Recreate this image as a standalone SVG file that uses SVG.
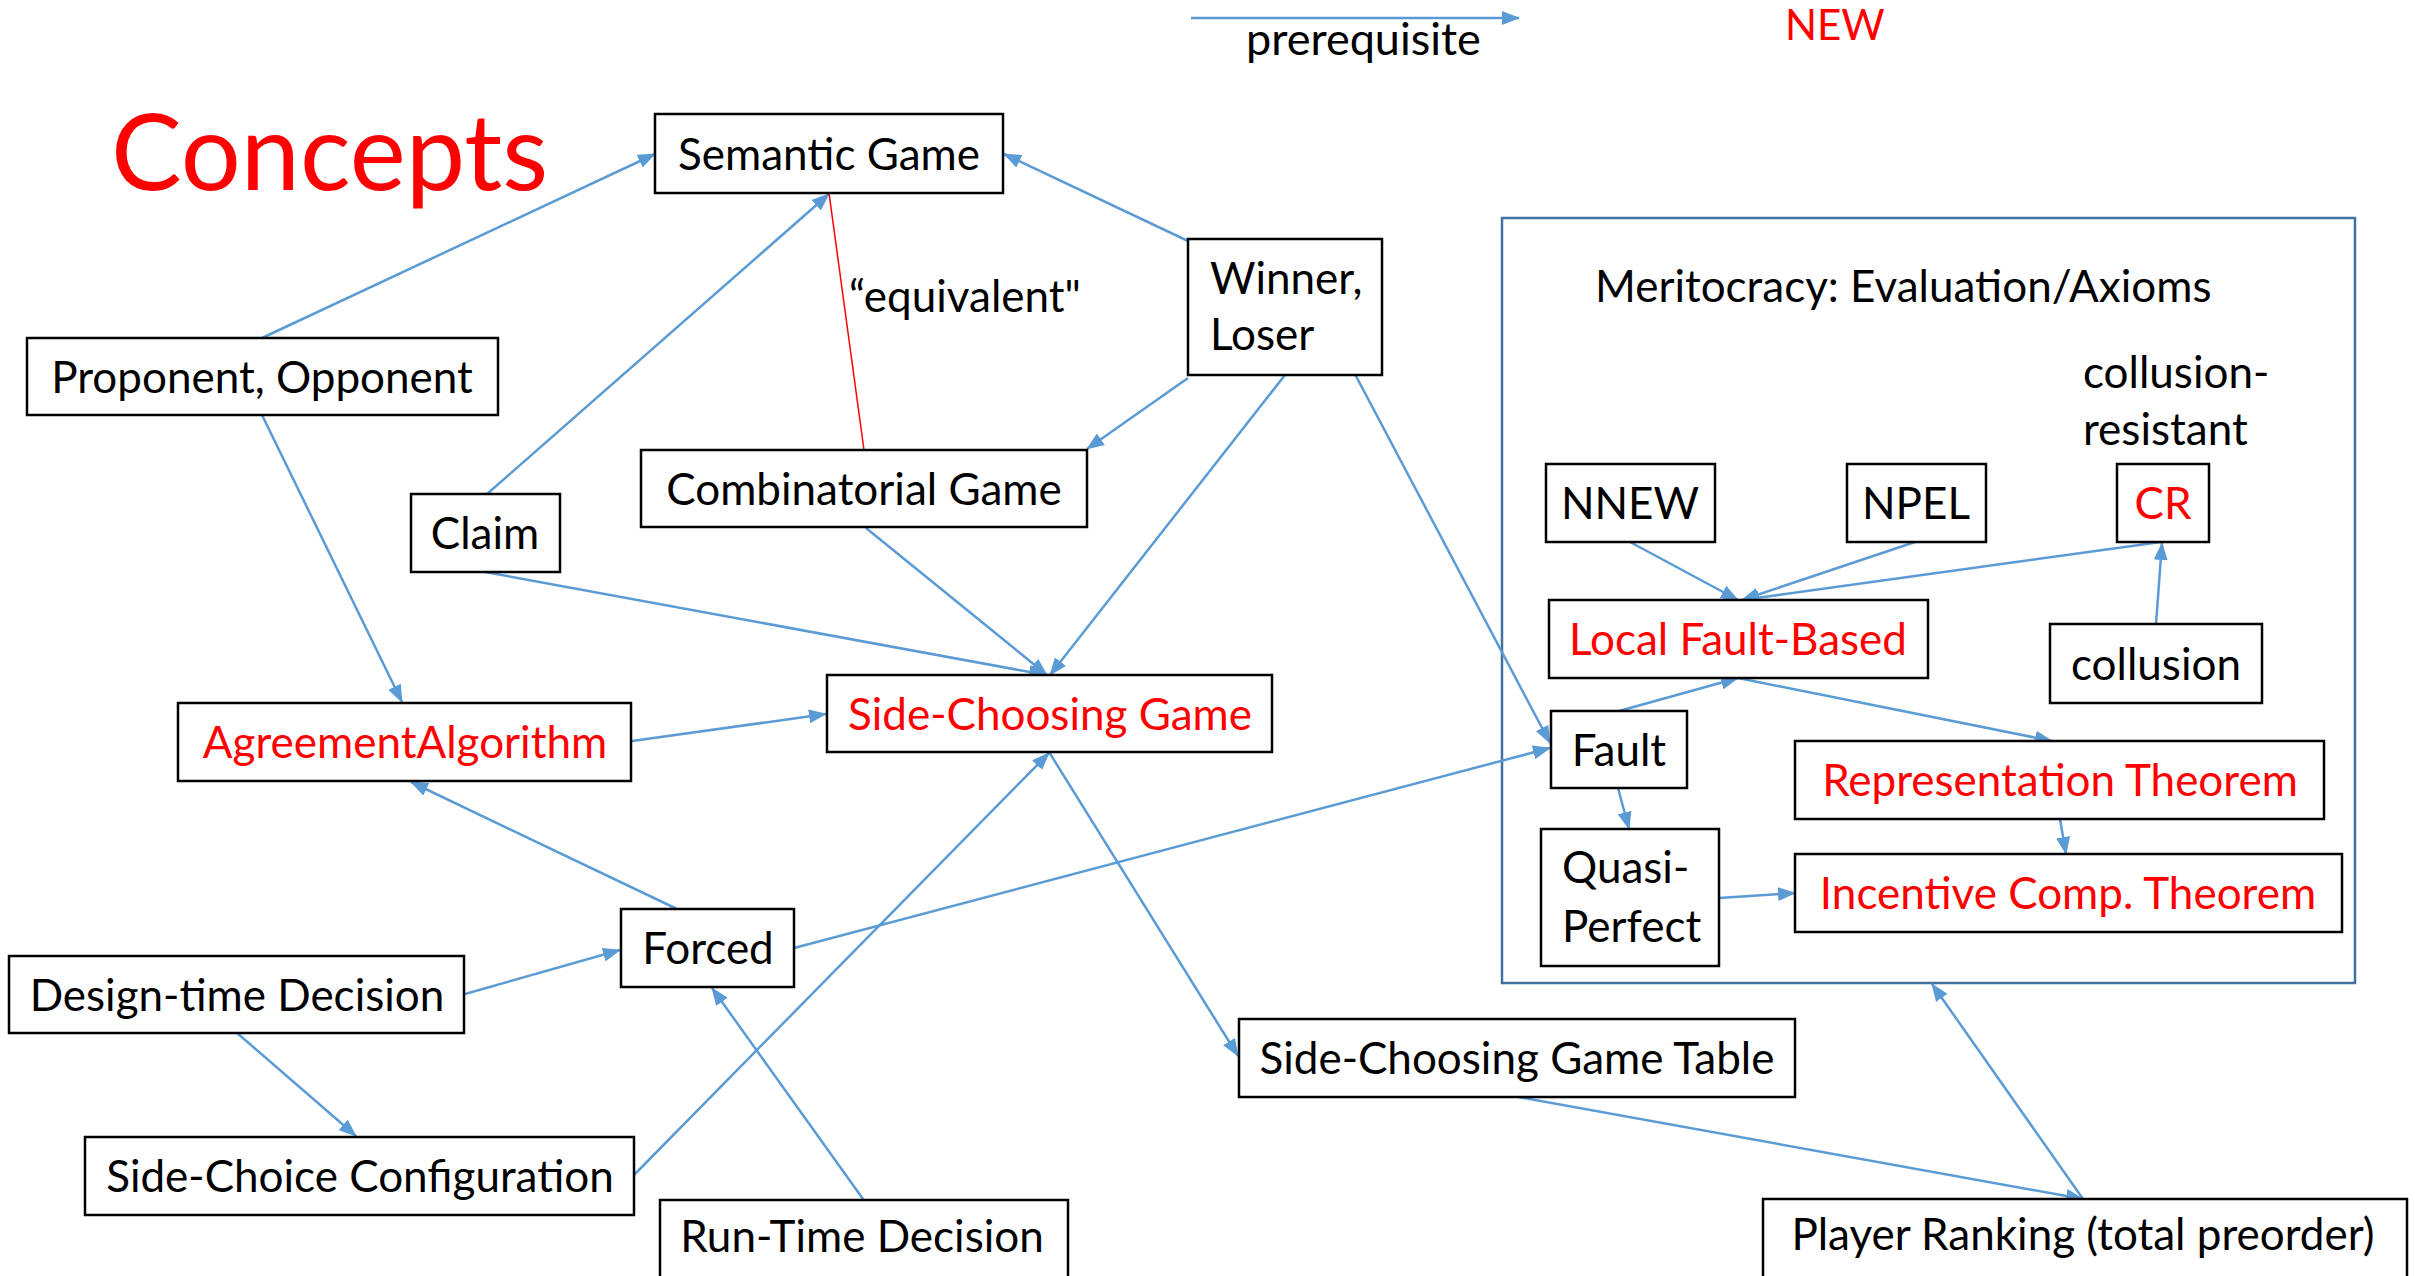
<svg xmlns="http://www.w3.org/2000/svg" width="2415" height="1276" viewBox="0 0 2415 1276">
<style>
.box{fill:#fff;stroke:#000;stroke-width:2.5}
.t{font-family:Lato,"Liberation Sans",sans-serif;font-size:44px;fill:#000}
.c{text-anchor:middle}
.red{fill:#ff0000}
.e{fill:none;stroke:#5b9bd5;stroke-width:2.5;marker-end:url(#ah)}
</style>
<defs>
<marker id="ah" markerWidth="18" markerHeight="14" refX="17" refY="7" orient="auto" markerUnits="userSpaceOnUse">
<path d="M0,0 L18,7 L0,14 z" fill="#5b9bd5"/>
</marker>
</defs>
<rect width="2415" height="1276" fill="#fff"/>

<g id="titles">
<text x="111" y="190" class="t red" style="font-size:106px">Concepts</text>
<text x="1785" y="40" class="t red" style="font-size:42px">NEW</text>
<text x="1246" y="55" class="t" style="font-size:45px">prerequisite</text>
<text x="849" y="312" class="t">“equivalent"</text>
</g>

<g id="meritocracy">
<rect x="1502" y="218" width="853" height="765" fill="none" stroke="#41719c" stroke-width="2.5"/>
<text x="1595" y="302" class="t">Meritocracy: Evaluation/Axioms</text>
<text x="2083" y="388" class="t">collusion-</text>
<text x="2083" y="445" class="t">resistant</text>
</g>

<g id="connectors">
<line class="e" x1="1191" y1="18" x2="1519" y2="18"/>
<line class="e" x1="262" y1="338" x2="655" y2="154"/>
<line class="e" x1="487" y1="494" x2="829" y2="194"/>
<line class="e" x1="1188" y1="241" x2="1004" y2="154"/>
<line x1="829" y1="193" x2="864" y2="450" stroke="#ff0000" stroke-width="1.5"/>
<line class="e" x1="1188" y1="378" x2="1087" y2="449"/>
<line class="e" x1="1285" y1="375" x2="1050" y2="675"/>
<line class="e" x1="1329" y1="325" x2="1550" y2="743"/>
<line class="e" x1="485" y1="572" x2="1046" y2="675"/>
<line class="e" x1="866" y1="528" x2="1047" y2="675"/>
<line class="e" x1="262" y1="415" x2="402" y2="702"/>
<line class="e" x1="632" y1="741" x2="826" y2="714"/>
<line class="e" x1="677" y1="909" x2="411" y2="782"/>
<line class="e" x1="465" y1="994" x2="620" y2="950"/>
<line class="e" x1="237" y1="1033" x2="356" y2="1136"/>
<line class="e" x1="634" y1="1175" x2="1049" y2="753"/>
<line class="e" x1="863" y1="1199" x2="712" y2="988"/>
<line class="e" x1="794" y1="948" x2="1550" y2="748"/>
<line class="e" x1="1049" y1="752" x2="1238" y2="1056"/>
<line class="e" x1="1518" y1="1097" x2="2083" y2="1199"/>
<line class="e" x1="2083" y1="1199" x2="1932" y2="984"/>
<line class="e" x1="1630" y1="542" x2="1738" y2="600"/>
<line class="e" x1="1915" y1="542" x2="1742" y2="600"/>
<line class="e" x1="2161" y1="542" x2="1742" y2="600"/>
<line class="e" x1="2156" y1="624" x2="2162" y2="543"/>
<line class="e" x1="1619" y1="711" x2="1738" y2="678"/>
<line class="e" x1="1738" y1="678" x2="2052" y2="741"/>
<line class="e" x1="1618" y1="788" x2="1629" y2="829"/>
<line class="e" x1="2060" y1="819" x2="2066" y2="854"/>
<line class="e" x1="1719" y1="898" x2="1795" y2="893"/>
</g>

<g id="n-semantic"><rect class="box" x="655" y="114" width="348" height="79"/><text x="829" y="170" class="t c">Semantic Game</text></g>
<g id="n-proponent"><rect class="box" x="27" y="338" width="471" height="77"/><text x="262" y="393" class="t c">Proponent, Opponent</text></g>
<g id="n-claim"><rect class="box" x="411" y="494" width="149" height="78"/><text x="485" y="549" class="t c">Claim</text></g>
<g id="n-combinatorial"><rect class="box" x="641" y="450" width="446" height="77"/><text x="864" y="505" class="t c">Combinatorial Game</text></g>
<g id="n-winner"><rect class="box" x="1188" y="239" width="194" height="136"/><text x="1210" y="294" class="t">Winner,</text><text x="1210" y="350" class="t">Loser</text></g>
<g id="n-agreement"><rect class="box" x="178" y="703" width="453" height="78"/><text x="405" y="758" class="t c red">AgreementAlgorithm</text></g>
<g id="n-sidechoosing"><rect class="box" x="827" y="675" width="445" height="77"/><text x="1050" y="730" class="t c red">Side-Choosing Game</text></g>
<g id="n-forced"><rect class="box" x="621" y="909" width="173" height="78"/><text x="708" y="964" class="t c">Forced</text></g>
<g id="n-designtime"><rect class="box" x="9" y="956" width="455" height="77"/><text x="237" y="1011" class="t c">Design-time Decision</text></g>
<g id="n-sidechoice"><rect class="box" x="85" y="1137" width="549" height="78"/><text x="360" y="1192" class="t c">Side-Choice Configuration</text></g>
<g id="n-runtime"><rect class="box" x="660" y="1200" width="408" height="90"/><text x="862" y="1252" class="t c">Run-Time Decision</text></g>
<g id="n-table"><rect class="box" x="1239" y="1019" width="556" height="78"/><text x="1517" y="1074" class="t c">Side-Choosing Game Table</text></g>
<g id="n-ranking"><rect class="box" x="1763" y="1199" width="644" height="91"/><text x="2083" y="1250" class="t c">Player Ranking (total preorder)</text></g>
<g id="n-nnew"><rect class="box" x="1546" y="464" width="169" height="78"/><text x="1630" y="519" class="t c">NNEW</text></g>
<g id="n-npel"><rect class="box" x="1847" y="464" width="139" height="78"/><text x="1916" y="519" class="t c">NPEL</text></g>
<g id="n-cr"><rect class="box" x="2117" y="464" width="92" height="78"/><text x="2163" y="519" class="t c red">CR</text></g>
<g id="n-local"><rect class="box" x="1549" y="600" width="379" height="78"/><text x="1738" y="655" class="t c red">Local Fault-Based</text></g>
<g id="n-collusion"><rect class="box" x="2050" y="624" width="212" height="79"/><text x="2156" y="680" class="t c">collusion</text></g>
<g id="n-fault"><rect class="box" x="1551" y="711" width="136" height="77"/><text x="1619" y="766" class="t c">Fault</text></g>
<g id="n-quasi"><rect class="box" x="1541" y="829" width="178" height="137"/><text x="1562" y="883" class="t">Quasi-</text><text x="1562" y="942" class="t">Perfect</text></g>
<g id="n-representation"><rect class="box" x="1795" y="741" width="529" height="78"/><text x="2060" y="796" class="t c red">Representation Theorem</text></g>
<g id="n-incentive"><rect class="box" x="1795" y="854" width="547" height="78"/><text x="2068" y="909" class="t c red">Incentive Comp. Theorem</text></g>
</svg>
